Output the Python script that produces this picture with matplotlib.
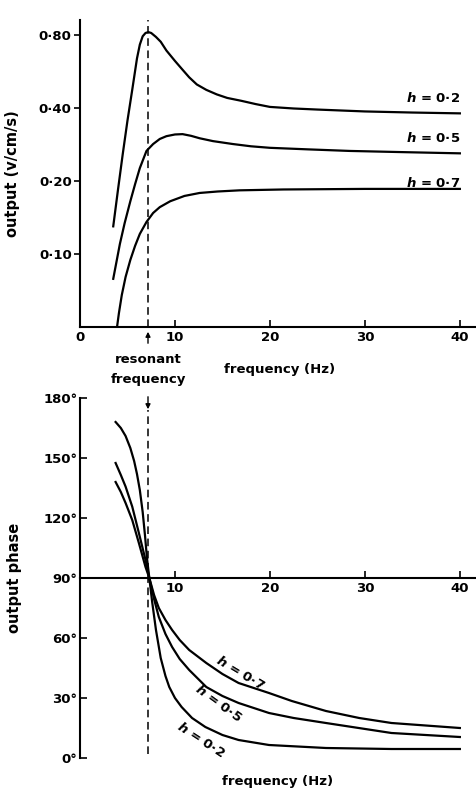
import matplotlib
matplotlib.use("Agg")
import matplotlib.pyplot as plt
from matplotlib.patches import FancyArrowPatch

plt.rcParams['font.family'] = ['DejaVu Sans']
plt.rcParams['font.weight'] = 'bold'
plt.rcParams['axes.labelweight'] = 'bold'
plt.rcParams['mathtext.fontset'] = 'custom'
plt.rcParams['mathtext.it'] = 'DejaVu Sans:italic:bold'

W, H = 476, 794
F0 = 7.2  # resonant frequency (Hz)

# amplitude curves (output, v/cm/s)
amp_f_02 = [3.5, 4.0, 4.5, 5.0, 5.5, 6.0, 6.3, 6.6, 6.9, 7.2, 7.5, 8.0, 8.5, 9.1, 10.0, 10.8, 11.5, 12.3, 13.3,
            14.4, 15.5, 17, 18.5, 20, 22.5, 25, 30, 35, 40]
amp_v_02 = [0.13, 0.184, 0.258, 0.355, 0.475, 0.64, 0.73, 0.79, 0.815, 0.822, 0.815, 0.785, 0.75, 0.69, 0.625,
            0.575, 0.535, 0.50, 0.475, 0.455, 0.44, 0.428, 0.415, 0.404, 0.398, 0.394, 0.387, 0.383, 0.38]
amp_f_05 = [3.5, 4.2, 4.7, 5.3, 5.8, 6.3, 7.0, 7.7, 8.4, 9.1, 10.0, 10.8, 11.7, 12.6, 14.0, 16.1, 18, 20, 24,
            28.4, 34, 40]
amp_v_05 = [0.079, 0.110, 0.134, 0.165, 0.194, 0.226, 0.266, 0.284, 0.298, 0.306, 0.311, 0.312, 0.307, 0.30,
            0.292, 0.284, 0.278, 0.274, 0.27, 0.266, 0.263, 0.26]
amp_f_07 = [3.9, 4.1, 4.4, 4.8, 5.3, 5.8, 6.3, 7.0, 7.7, 8.4, 9.5, 11.0, 12.6, 14.5, 16.8, 21.4, 30, 40]
amp_v_07 = [0.05, 0.0571, 0.0677, 0.0804, 0.0945, 0.108, 0.121, 0.1355, 0.1476, 0.156, 0.165, 0.1735, 0.1785,
            0.181, 0.183, 0.1845, 0.1855, 0.1855]

# phase curves (degrees)
ph_f_02 = [3.75, 4.3, 4.8, 5.3, 5.7, 6.0, 6.3, 6.6, 6.85, 7.05, 7.3, 7.6, 8.0, 8.5, 9.0, 9.4, 10.0, 10.7, 11.8,
           13.2, 15.0, 16.7, 19.9, 25.9, 32.8, 40]
ph_v_02 = [168, 165, 161, 155, 148.5, 142, 134, 123, 111, 100, 90, 78, 64, 50, 41, 35.5, 30, 25.5, 20,
           15.5, 11.5, 9, 6.5, 5, 4.5, 4.5]
ph_f_05 = [3.75, 4.3, 4.8, 5.5, 6.2, 6.9, 7.3, 7.8, 8.3, 9.0, 9.7, 10.5, 11.5, 13.3, 15.0, 16.7, 19.9, 22.5,
           25.9, 32.8, 40]
ph_v_05 = [147.5, 141.5, 135.7, 125.7, 112.5, 99, 90, 79.5, 70.5, 62, 55.5, 49.5, 44, 35.5, 31, 27.5, 22.5,
           20, 17.5, 12.5, 10.5]
ph_f_07 = [3.75, 4.3, 4.8, 5.5, 6.2, 6.9, 7.3, 7.8, 8.3, 9.0, 9.7, 10.5, 11.5, 13.3, 15.0, 16.7, 19.9, 22.3,
           25.9, 29.4, 32.8, 40]
ph_v_07 = [138, 133, 127.5, 119, 107.5, 95.5, 90, 81.5, 75, 69, 64, 59, 54, 47.5, 42, 37.5, 32.5, 28.5,
           23.5, 20, 17.5, 15]

amp_ticks = [0.10, 0.20, 0.40, 0.80]
amp_tick_labels = ['0·10', '0·20', '0·40', '0·80']
freq_ticks = [0, 10, 20, 30, 40]
phase_ticks = [0, 30, 60, 90, 120, 150, 180]

fig = plt.figure(figsize=(W / 100, H / 100), dpi=100)
lw = 1.6
fs = 9.5
fs_lab = 10.5

# ---- top panel: output amplitude ----
ax1 = fig.add_axes([80 / W, 1 - 327 / H, 396 / W, 307 / H])
ax1.set_yscale('log', base=2)
ax1.plot(amp_f_02, amp_v_02, color='black', lw=lw)
ax1.plot(amp_f_05, amp_v_05, color='black', lw=lw)
ax1.plot(amp_f_07, amp_v_07, color='black', lw=lw)
ax1.axvline(F0, color='black', lw=1.1, ls=(0, (5, 3)))
ax1.set_xlim(0, 41.7)
ax1.set_ylim(0.05, 0.922)
ax1.set_yticks(amp_ticks)
ax1.set_yticklabels(amp_tick_labels)
ax1.yaxis.set_minor_locator(plt.NullLocator())
ax1.set_xticks(freq_ticks)
ax1.tick_params(axis='y', direction='out', length=4, width=1.2, labelsize=fs, pad=2)
ax1.tick_params(axis='x', direction='in', length=5, width=1.2, labelsize=fs, pad=3)
for s in ['top', 'right']:
    ax1.spines[s].set_visible(False)
for s in ['left', 'bottom']:
    ax1.spines[s].set_linewidth(1.5)
ax1.set_ylabel('output (v/cm/s)', fontsize=fs_lab)
ax1.yaxis.set_label_coords(-60 / 396, 0.5)
ax1.text(40, 0.44, '$h$ = 0·2', ha='right', va='center', fontsize=fs)
ax1.text(40, 0.301, '$h$ = 0·5', ha='right', va='center', fontsize=fs)
ax1.text(40, 0.196, '$h$ = 0·7', ha='right', va='center', fontsize=fs)

# resonant frequency marker between the panels
fig.text(148 / W, 1 - 359 / H, 'resonant', ha='center', va='center', fontsize=fs)
fig.text(148 / W, 1 - 380 / H, 'frequency', ha='center', va='center', fontsize=fs)
fig.text(280 / W, 1 - 370 / H, 'frequency (Hz)', ha='center', va='center', fontsize=fs)
fig.add_artist(FancyArrowPatch((148 / W, 1 - 346 / H), (148 / W, 1 - 329 / H), transform=fig.transFigure,
                               arrowstyle='-|>', mutation_scale=7, color='black', lw=1))
fig.add_artist(FancyArrowPatch((148 / W, 1 - 394 / H), (148 / W, 1 - 412 / H), transform=fig.transFigure,
                               arrowstyle='-|>', mutation_scale=7, color='black', lw=1))

# ---- bottom panel: output phase ----
ax2 = fig.add_axes([80 / W, 1 - 758 / H, 396 / W, 360 / H])
ax2.plot(ph_f_02, ph_v_02, color='black', lw=lw)
ax2.plot(ph_f_05, ph_v_05, color='black', lw=lw)
ax2.plot(ph_f_07, ph_v_07, color='black', lw=lw)
ax2.plot([F0, F0], [2, 174], color='black', lw=1.1, ls=(0, (5, 3)))
ax2.set_xlim(0, 41.7)
ax2.set_ylim(0, 180)
ax2.spines['bottom'].set_position(('data', 90))
for s in ['top', 'right']:
    ax2.spines[s].set_visible(False)
for s in ['left', 'bottom']:
    ax2.spines[s].set_linewidth(1.5)
ax2.set_yticks(phase_ticks)
ax2.set_yticklabels([f'{t}\u00b0' for t in phase_ticks])
ax2.set_xticks(freq_ticks[1:])
ax2.tick_params(axis='y', direction='in', length=5, width=1.2, labelsize=fs, pad=2)
ax2.tick_params(axis='x', direction='in', length=5, width=1.2, labelsize=fs, pad=3)
ax2.set_ylabel('output phase', fontsize=fs_lab)
ax2.yaxis.set_label_coords(-58 / 396, 0.5)
ax2.text(16.9, 42.6, '$h$ = 0·7', ha='center', va='center', rotation=-31, fontsize=fs)
ax2.text(14.6, 27.6, '$h$ = 0·5', ha='center', va='center', rotation=-36, fontsize=fs)
ax2.text(12.7, 9.3, '$h$ = 0·2', ha='center', va='center', rotation=-33, fontsize=fs)
fig.text(278 / W, 1 - 782 / H, 'frequency (Hz)', ha='center', va='center', fontsize=fs)

fig.savefig('out.png', dpi=100)
